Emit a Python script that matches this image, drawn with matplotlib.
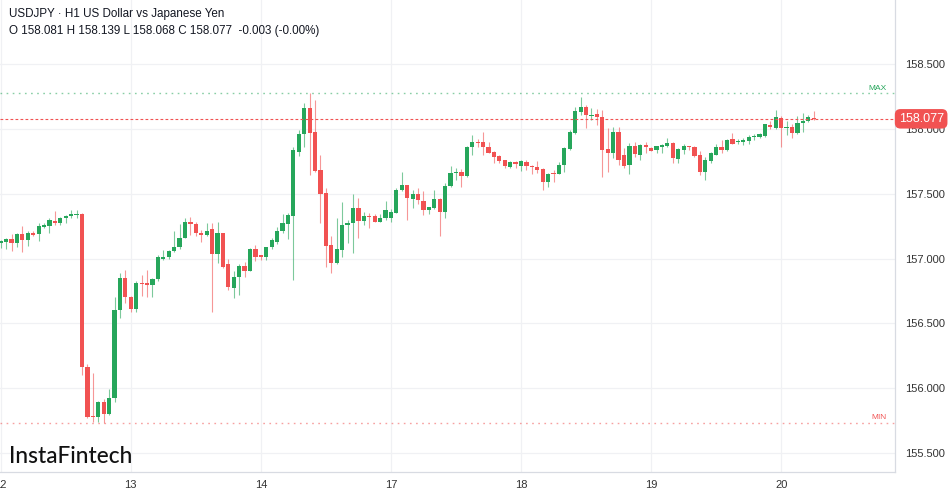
import numpy as np
import matplotlib.pyplot as plt
from matplotlib.transforms import blended_transform_factory

# hourly candles, USDJPY H1, from 12th 00:00 to 20th 06:00
opens = [157.12, 157.125, 157.15, 157.12, 157.19, 157.145, 157.20, 157.19, 157.245, 157.25,
         157.29, 157.275, 157.31, 157.33, 157.335, 157.345, 156.165, 155.785, 155.78, 155.895,
         155.80, 155.925, 156.605, 156.85, 156.70, 156.61, 156.81, 156.81, 156.795, 156.84,
         157.00, 157.01, 157.055, 157.09, 157.16, 157.285, 157.265, 157.20, 157.18, 157.225,
         157.033, 157.195, 156.955, 156.77, 156.855, 156.945, 156.90, 157.07, 157.025, 157.01,
         157.085, 157.13, 157.21, 157.265, 157.33, 157.824, 157.958, 158.16, 157.973, 157.683,
         157.503, 157.107, 156.963, 157.066, 157.255, 157.272, 157.392, 157.292, 157.33, 157.328,
         157.284, 157.31, 157.315, 157.353, 157.528, 157.565, 157.46, 157.50, 157.446, 157.374,
         157.39, 157.46, 157.36, 157.56, 157.657, 157.67, 157.637, 157.858, 157.90, 157.896,
         157.862, 157.824, 157.79, 157.76, 157.708, 157.747, 157.716, 157.747, 157.716, 157.708,
         157.688, 157.593, 157.662, 157.652, 157.72, 157.842, 157.97, 158.132, 158.166, 158.10,
         158.115, 158.094, 157.842, 157.81, 157.978, 157.80, 157.721, 157.868, 157.80, 157.875,
         157.855, 157.837, 157.86, 157.868, 157.893, 157.768, 157.837, 157.868, 157.862, 157.80,
         157.67, 157.755, 157.80, 157.862, 157.837, 157.92, 157.898, 157.90, 157.906, 157.935,
         157.94, 157.947, 158.03, 158.009, 158.086, 158.004, 158.017, 157.966, 158.043, 158.06,
         158.081]
highs = [157.145, 157.16, 157.19, 157.20, 157.25, 157.21, 157.21, 157.27, 157.27, 157.31,
         157.37, 157.32, 157.335, 157.375, 157.375, 157.35, 156.19, 156.12, 155.90, 155.92,
         155.995, 156.70, 156.89, 156.91, 156.71, 156.83, 156.87, 156.91, 156.85, 157.03,
         157.065, 157.065, 157.21, 157.265, 157.31, 157.32, 157.28, 157.22, 157.27, 157.27,
         157.284, 157.20, 157.00, 156.90, 156.96, 156.975, 157.08, 157.105, 157.03, 157.09,
         157.155, 157.245, 157.345, 157.35, 157.86, 157.99, 158.20, 158.274, 158.22, 157.80,
         157.54, 157.17, 157.31, 157.438, 157.30, 157.50, 157.465, 157.36, 157.35, 157.34,
         157.34, 157.446, 157.38, 157.54, 157.67, 157.57, 157.53, 157.54, 157.52, 157.40,
         157.528, 157.47, 157.58, 157.714, 157.70, 157.69, 157.87, 157.953, 157.92, 157.973,
         157.90, 157.83, 157.80, 157.76, 157.755, 157.755, 157.76, 157.76, 157.72, 157.755,
         157.70, 157.66, 157.68, 157.747, 157.86, 157.99, 158.165, 158.246, 158.18, 158.158,
         158.15, 158.145, 158.004, 158.017, 158.017, 157.85, 157.888, 157.90, 157.88, 157.90,
         157.86, 157.87, 157.88, 157.932, 157.90, 157.85, 157.88, 157.87, 157.87, 157.83,
         157.785, 157.82, 157.88, 157.914, 157.92, 157.966, 157.92, 157.93, 157.95, 157.96,
         157.966, 158.04, 158.06, 158.145, 158.10, 158.063, 158.04, 158.10, 158.12, 158.11,
         158.139]
lows = [157.08, 157.07, 157.06, 157.09, 157.05, 157.10, 157.17, 157.135, 157.235, 157.20,
        157.26, 157.26, 157.27, 157.31, 157.31, 156.10, 155.77, 155.74, 155.74, 155.732,
        155.79, 155.895, 156.54, 156.66, 156.59, 156.59, 156.71, 156.70, 156.70, 156.83,
        156.99, 157.00, 157.05, 157.075, 157.155, 157.18, 157.17, 157.13, 157.175, 156.59,
        156.963, 156.927, 156.757, 156.693, 156.72, 156.86, 156.90, 156.98, 156.99, 156.99,
        157.075, 157.11, 157.195, 157.148, 156.835, 157.79, 157.862, 157.644, 157.67, 157.272,
        156.937, 156.89, 156.955, 157.015, 157.118, 157.04, 157.156, 157.26, 157.233, 157.28,
        157.28, 157.30, 157.28, 157.35, 157.52, 157.30, 157.387, 157.42, 157.336, 157.34,
        157.38, 157.17, 157.31, 157.55, 157.606, 157.55, 157.63, 157.80, 157.86, 157.80,
        157.81, 157.734, 157.734, 157.696, 157.696, 157.696, 157.677, 157.68, 157.652, 157.66,
        157.528, 157.554, 157.593, 157.65, 157.67, 157.84, 157.96, 158.107, 158.004, 158.068,
        158.03, 157.631, 157.67, 157.773, 157.72, 157.70, 157.652, 157.785, 157.76, 157.81,
        157.825, 157.81, 157.81, 157.86, 157.734, 157.734, 157.804, 157.84, 157.785, 157.644,
        157.606, 157.74, 157.80, 157.81, 157.83, 157.88, 157.88, 157.875, 157.885, 157.91,
        157.93, 157.94, 158.00, 158.00, 157.858, 157.953, 157.927, 157.96, 157.978, 158.05,
        158.068]
closes = [157.135, 157.15, 157.12, 157.19, 157.145, 157.20, 157.185, 157.25, 157.255, 157.30,
          157.275, 157.31, 157.33, 157.34, 157.345, 156.165, 155.78, 155.775, 155.895, 155.80,
          155.925, 156.605, 156.85, 156.70, 156.61, 156.81, 156.80, 156.795, 156.84, 157.01,
          157.015, 157.055, 157.09, 157.16, 157.285, 157.265, 157.195, 157.18, 157.215, 157.033,
          157.20, 156.937, 156.778, 156.855, 156.945, 156.90, 157.07, 157.015, 157.01, 157.085,
          157.14, 157.215, 157.27, 157.335, 157.835, 157.96, 158.16, 157.965, 157.677, 157.498,
          157.10, 156.963, 157.07, 157.259, 157.272, 157.392, 157.292, 157.328, 157.32, 157.284,
          157.315, 157.375, 157.357, 157.528, 157.565, 157.465, 157.495, 157.45, 157.374, 157.395,
          157.46, 157.36, 157.56, 157.657, 157.67, 157.637, 157.862, 157.90, 157.89, 157.862,
          157.816, 157.785, 157.755, 157.714, 157.747, 157.729, 157.752, 157.716, 157.703, 157.683,
          157.593, 157.652, 157.652, 157.72, 157.85, 157.978, 158.14, 158.166, 158.107, 158.11,
          158.094, 157.837, 157.81, 157.978, 157.76, 157.716, 157.868, 157.804, 157.875, 157.857,
          157.83, 157.868, 157.875, 157.893, 157.773, 157.842, 157.868, 157.858, 157.793, 157.67,
          157.76, 157.812, 157.862, 157.837, 157.914, 157.883, 157.905, 157.91, 157.94, 157.945,
          157.958, 158.035, 158.017, 158.089, 158.004, 158.017, 157.966, 158.043, 158.063, 158.089,
          158.077]

day_labels = ['12', '13', '14', '17', '18', '19', '20']
bars_per_day = 24
price_ticks = [155.5, 156.0, 156.5, 157.0, 157.5, 158.0, 158.5]
max_price = 158.274
min_price = 155.732
last_price = 158.077

GREEN = '#26a65b'
RED = '#f15252'
GRID = '#f0f1f4'
TXT = '#131722'

opens = np.array(opens)
highs = np.array(highs)
lows = np.array(lows)
closes = np.array(closes)
x = np.arange(len(opens))
up = closes >= opens
colors = np.where(up, GREEN, RED)

fig = plt.figure(figsize=(9.49, 4.94), dpi=100)
ax = fig.add_axes([0, 22 / 494, 895 / 949, 472 / 494])

# gridlines
for p in price_ticks:
    ax.axhline(p, color=GRID, lw=0.9, zorder=0)
for k in range(len(day_labels)):
    ax.axvline(k * bars_per_day, color=GRID, lw=0.9, zorder=0)

# candles
ax.vlines(x, lows, highs, colors=colors, lw=0.8, alpha=0.6, zorder=2)
body = np.maximum(np.abs(closes - opens), 0.006)
ax.bar(x, body, bottom=np.minimum(opens, closes), width=0.78, color=colors,
       lw=0, zorder=3)

# max / min / last price lines
ax.axhline(max_price, color=GREEN, lw=1.0, alpha=0.55, ls=(0, (1.2, 3.2)), zorder=1)
ax.axhline(min_price, color=RED, lw=1.0, alpha=0.55, ls=(0, (1.2, 3.2)), zorder=1)
ax.axhline(last_price, color=RED, lw=0.8, ls=(0, (2.5, 2)), zorder=4)

ax.set_xlim(-0.13, 165.0)
ax.set_ylim(155.354, 158.993)

trans = blended_transform_factory(ax.transAxes, ax.transData)
ax.text(0.991, max_price + 0.012, 'MAX', transform=trans, ha='right', va='bottom',
        fontsize=6, color=GREEN, family='Liberation Sans')
ax.text(0.991, min_price + 0.012, 'MIN', transform=trans, ha='right', va='bottom',
        fontsize=6, color=RED, family='Liberation Sans')
ax.text(1.004, last_price, f'{last_price:.3f}', transform=trans, ha='left', va='center',
        fontsize=9, color='white', family='Liberation Sans', clip_on=False, zorder=10,
        bbox=dict(boxstyle='round,pad=0.3,rounding_size=0.45', fc=RED, ec='none'))

ax.yaxis.tick_right()
ax.set_yticks(price_ticks)
ax.set_yticklabels([f'{p:.3f}' for p in price_ticks])
ax.set_xticks([k * bars_per_day for k in range(len(day_labels))])
ax.set_xticklabels(day_labels)
ax.tick_params(axis='y', length=0, pad=7.5, labelsize=8, labelcolor='#333333')
ax.tick_params(axis='x', length=0, pad=6, labelsize=8, labelcolor='#333333')
for lab in ax.get_xticklabels() + ax.get_yticklabels():
    lab.set_family('Liberation Sans')

for side in ['left', 'top']:
    ax.spines[side].set_visible(False)
for side in ['right', 'bottom']:
    ax.spines[side].set_color('#d8dbe2')
    ax.spines[side].set_linewidth(0.9)

fig.text(9 / 949, 1 - 14 / 494, 'USDJPY · H1 US Dollar vs Japanese Yen', ha='left',
         va='center', fontsize=8.4, color=TXT, family='Liberation Sans')
fig.text(9 / 949, 1 - 31 / 494, 'O 158.081 H 158.139 L 158.068 C 158.077  -0.003 (-0.00%)',
         ha='left', va='center', fontsize=8.4, color=TXT, family='Liberation Sans')
fig.text(9 / 949, 1 - 456 / 494, 'InstaFintech', ha='left', va='center', fontsize=16.3,
         color='#111111', family='Lato', weight='medium')

fig.savefig('out.png', dpi=100)
